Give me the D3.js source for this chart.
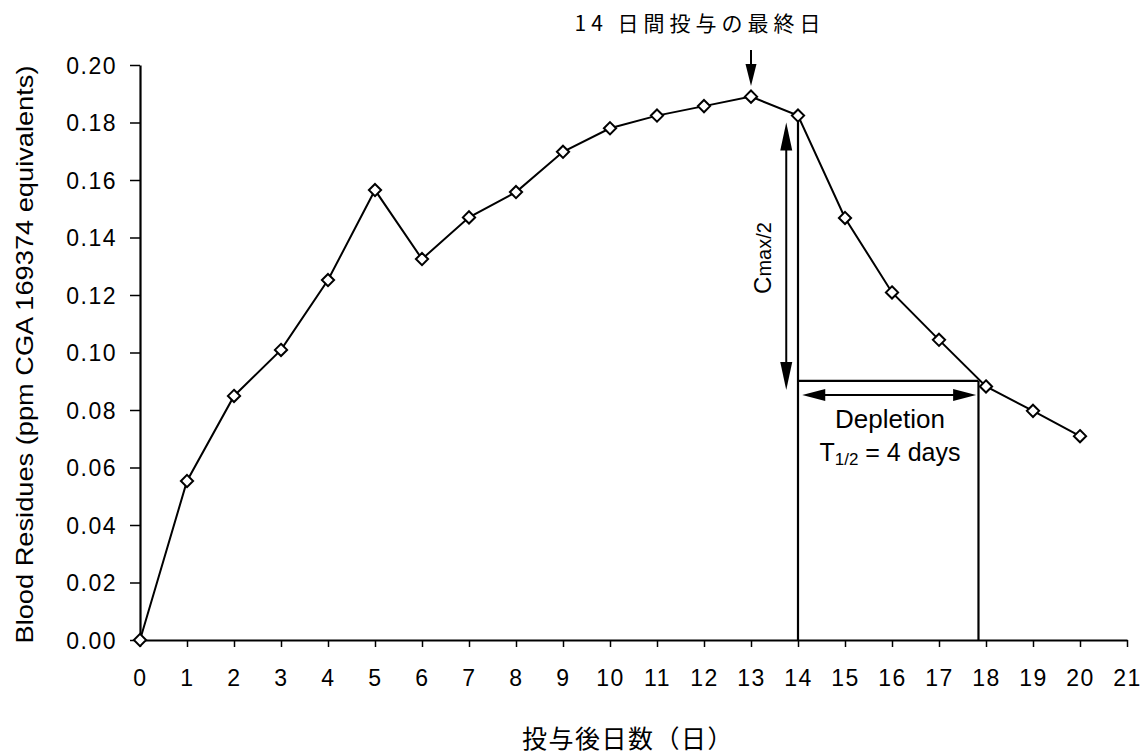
<!DOCTYPE html>
<html>
<head>
<meta charset="utf-8">
<script src="https://cdn.jsdelivr.net/npm/d3@7"></script>
<style>
  html, body { margin: 0; padding: 0; background: #fff; }
  svg { display: block; }
</style>
</head>
<body>
<svg id="chart" width="1143" height="755"></svg>
<script>
// ---- data ----
const days = [0,1,2,3,4,5,6,7,8,9,10,11,12,13,14,15,16,17,18,19,20];
const residues = [0, 0.0553, 0.0849, 0.1009, 0.1252, 0.1565, 0.1325, 0.1470, 0.1558, 0.1698,
                  0.1780, 0.1824, 0.1857, 0.1890, 0.1824, 0.1468, 0.1209, 0.1044, 0.0882, 0.0797, 0.0709];
const xTicks = [0,1,2,3,4,5,6,7,8,9,10,11,12,13,14,15,16,17,18,19,20,21];
const yTicks = [0.00,0.02,0.04,0.06,0.08,0.10,0.12,0.14,0.16,0.18,0.20];
const yTitle = "Blood Residues (ppm CGA 169374 equivalents)";
const xTitle = "投与後日数（日）";
const topNote = "14 日間投与の最終日";
// annotation values (data units)
const lastDoseDay = 13;
const cmaxDay = 14, cmaxVal = 0.1824;
const halfVal = 0.0901, halfDay = 17.84;

const svg = d3.select("#chart");
const x = d3.scaleLinear().domain([0, 21]).range([140, 1127]);
const y = d3.scaleLinear().domain([0, 0.20]).range([640, 65]);

const sans = "'Liberation Sans', Arial, sans-serif";
const cjk = "'Noto Sans CJK JP', 'Noto Sans CJK SC', sans-serif";

// axes
const xAxis = d3.axisBottom(x).tickValues(xTicks).tickFormat(d3.format("d")).tickSizeOuter(0).tickSizeInner(7).tickPadding(23);
const gx = svg.append("g").attr("transform", `translate(0,${y(0)})`).call(xAxis);
const yAxis = d3.axisLeft(y).tickValues(yTicks).tickFormat(d3.format(".2f")).tickSizeOuter(0).tickSizeInner(10).tickPadding(13);
const gy = svg.append("g").attr("transform", `translate(${x(0)},0)`).call(yAxis);
[gx, gy].forEach(g => {
  g.select(".domain").attr("stroke", "#000").attr("stroke-width", 2.2);
  g.selectAll(".tick line").attr("stroke", "#000").attr("stroke-width", 1.5);
  g.selectAll(".tick text").attr("fill", "#000").style("font-family", sans)
    .style("font-size", "23px").style("letter-spacing", "1.5px");
});
gy.selectAll(".tick text").attr("dy", "0.36em");

// axis titles
svg.append("text")
  .attr("transform", `translate(33,${(y(0)+y(0.2))/2 + 2}) rotate(-90)`)
  .attr("text-anchor", "middle")
  .attr("textLength", 578).attr("lengthAdjust", "spacingAndGlyphs")
  .style("font-family", sans).style("font-size", "24px").attr("fill", "#000")
  .text(yTitle);

svg.append("text")
  .attr("x", 628).attr("y", 748)
  .attr("text-anchor", "middle")
  .style("font-family", cjk).style("font-size", "25px").style("letter-spacing", "1.5px")
  .attr("fill", "#000")
  .text(xTitle);

// annotation lines
const ann = svg.append("g").attr("stroke", "#000").attr("stroke-width", 2.2).attr("fill", "none");
ann.append("line").attr("x1", x(cmaxDay)).attr("x2", x(cmaxDay)).attr("y1", y(cmaxVal)).attr("y2", y(0));
ann.append("line").attr("x1", x(cmaxDay)).attr("x2", x(halfDay)).attr("y1", y(halfVal)).attr("y2", y(halfVal));
ann.append("line").attr("x1", x(halfDay)).attr("x2", x(halfDay)).attr("y1", y(halfVal)).attr("y2", y(0));

// arrow helper: filled triangle head
function arrowHead(g, tipX, tipY, dirX, dirY, len, halfW) {
  const bx = tipX - dirX * len, by = tipY - dirY * len;
  const px = -dirY, py = dirX;
  g.append("path")
    .attr("d", `M${tipX},${tipY}L${bx + px*halfW},${by + py*halfW}L${bx - px*halfW},${by - py*halfW}Z`)
    .attr("fill", "#000").attr("stroke", "none");
}
const arr = svg.append("g");
// top arrow at last dose day
const tx = x(lastDoseDay);
arr.append("line").attr("x1", tx).attr("x2", tx).attr("y1", 50).attr("y2", 72).attr("stroke", "#000").attr("stroke-width", 2);
arrowHead(arr, tx, 86, 0, 1, 22, 5.5);

// Cmax/2 vertical double arrow
const cx = x(13.75);
const cTop = y(0.1800), cBot = y(0.0870);
arr.append("line").attr("x1", cx).attr("x2", cx).attr("y1", cTop + 20).attr("y2", cBot - 20).attr("stroke", "#000").attr("stroke-width", 2);
arrowHead(arr, cx, cTop, 0, -1, 28, 6);
arrowHead(arr, cx, cBot, 0, 1, 28, 6);

// Depletion horizontal double arrow
const dy0 = y(0.0852);
const dL = x(14.09), dR = x(17.79);
arr.append("line").attr("x1", dL + 15).attr("x2", dR - 15).attr("y1", dy0).attr("y2", dy0).attr("stroke", "#000").attr("stroke-width", 2);
arrowHead(arr, dL, dy0, -1, 0, 23, 6);
arrowHead(arr, dR, dy0, 1, 0, 23, 6);

// data line
svg.append("path")
  .datum(days.map((d, i) => [d, residues[i]]))
  .attr("fill", "none").attr("stroke", "#000").attr("stroke-width", 2)
  .attr("d", d3.line().x(d => x(d[0])).y(d => y(d[1])));

// markers
svg.append("g").selectAll("path")
  .data(days.map((d, i) => [d, residues[i]]))
  .join("path")
  .attr("transform", d => `translate(${x(d[0])},${y(d[1])})`)
  .attr("d", d3.symbol(d3.symbolDiamond2, 95))
  .attr("fill", "#fff").attr("stroke", "#000").attr("stroke-width", 2);

// texts
svg.append("text")
  .attr("x", 700).attr("y", 31)
  .attr("text-anchor", "middle")
  .style("font-family", cjk).style("font-size", "21px").style("letter-spacing", "5px")
  .attr("fill", "#000")
  .text(topNote);

const ct = svg.append("text")
  .attr("transform", `translate(771,${258}) rotate(-90)`)
  .attr("text-anchor", "middle")
  .style("font-family", sans).attr("fill", "#000");
ct.append("tspan").style("font-size", "24px").text("C");
ct.append("tspan").style("font-size", "20px").text("max/2");

svg.append("text")
  .attr("x", 890).attr("y", 428)
  .attr("text-anchor", "middle")
  .style("font-family", sans).style("font-size", "26px").attr("fill", "#000")
  .text("Depletion");

const tt = svg.append("text")
  .attr("x", 890).attr("y", 461)
  .attr("text-anchor", "middle")
  .style("font-family", sans).attr("fill", "#000");
tt.append("tspan").style("font-size", "25px").text("T");
tt.append("tspan").style("font-size", "17px").attr("dy", 4).text("1/2");
tt.append("tspan").style("font-size", "25px").attr("dy", -4).text(" = 4 days");
</script>
</body>
</html>
